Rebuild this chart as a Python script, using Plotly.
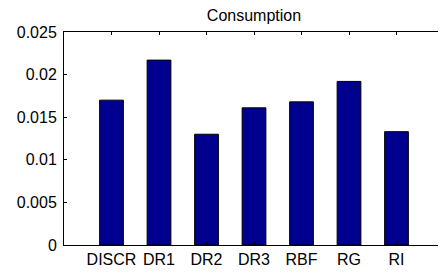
import plotly.graph_objects as go

categories = ["DISCR", "DR1", "DR2", "DR3", "RBF", "RG", "RI"]
consumption = [0.0170, 0.0217, 0.0130, 0.0161, 0.0168, 0.0192, 0.0133]
y_ticks = [0, 0.005, 0.01, 0.015, 0.02, 0.025]
y_tick_labels = ["0", "0.005", "0.01", "0.015", "0.02", "0.025"]

positions = list(range(1, len(categories) + 1))

fig = go.Figure(go.Bar(
    x=positions,
    y=consumption,
    width=0.5,
    marker=dict(color="rgb(0,0,143)", line=dict(color="black", width=1)),
))

fam = "Liberation Sans, Arial, sans-serif"
font = dict(family=fam, size=16, color="black")

# page body has an 8px margin; figure sized to fit the 446x275 window
W, H = 438, 267
fig.update_layout(
    width=W, height=H,
    margin=dict(l=56, r=2, t=24, b=30),
    paper_bgcolor="white", plot_bgcolor="white",
    font=font,
    showlegend=False,
    title=dict(text="Consumption", x=(56 + W - 2) / 2 / W, xanchor="center",
               y=1 - 7 / H, yanchor="middle", yref="container",
               font=dict(family=fam, size=16, color="black")),
    xaxis=dict(
        range=[0, 8], tickmode="array", tickvals=positions, ticktext=categories,
        ticks="inside", ticklen=3, tickcolor="black", showline=True, linecolor="black",
        linewidth=1, mirror="ticks", showgrid=False, zeroline=False,
    ),
    yaxis=dict(
        range=[0, 0.025], tickmode="array", tickvals=y_ticks, ticktext=y_tick_labels,
        ticks="inside", ticklen=3, tickcolor="black", showline=True, linecolor="black",
        linewidth=1, mirror="ticks", showgrid=False, zeroline=False,
        ticklabelstandoff=3,
    ),
)

fig.write_html("out.html")
